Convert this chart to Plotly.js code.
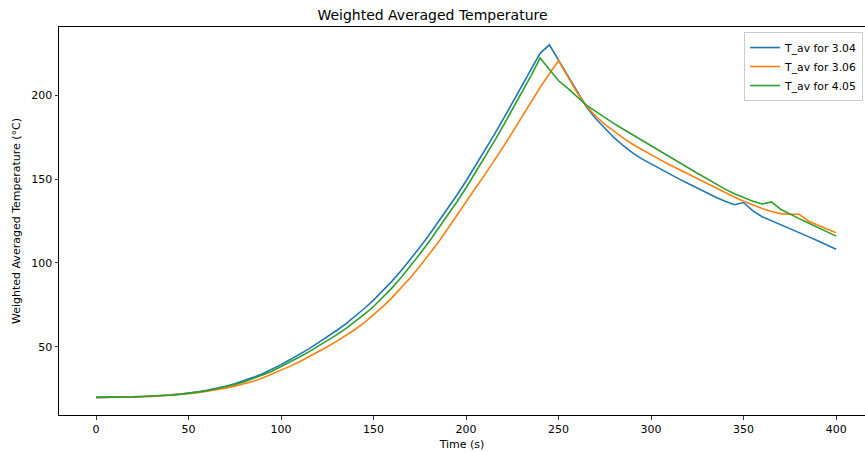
<!DOCTYPE html>
<html>
<head>
<meta charset="utf-8">
<script src="https://cdn.plot.ly/plotly-3.0.1.min.js"></script>
<style>html,body{margin:0;padding:0;background:#fff;}#chart{width:865px;height:452px;}</style>
</head>
<body>
<div id="chart"></div>
<script>
const time = [0,5,10,15,20,25,30,35,40,45,50,55,60,65,70,75,80,85,90,95,100,105,110,115,120,125,130,135,140,145,150,155,160,165,170,175,180,185,190,195,200,205,210,215,220,225,230,235,240,245,250,255,260,265,270,275,280,285,290,295,300,305,310,315,320,325,330,335,340,345,350,355,360,365,370,375,380,385,390,395,400];

const tav304 = [20.0,20.0,20.1,20.2,20.3,20.5,20.7,21.0,21.4,21.9,22.5,23.3,24.2,25.3,26.6,28.1,29.9,31.9,34.1,36.6,39.5,42.5,45.6,48.9,52.4,56.0,59.8,63.8,68.2,72.9,77.9,83.4,89.2,95.5,102.2,109.3,116.7,124.4,132.2,140.3,148.8,157.6,166.7,176.0,185.5,195.2,205.1,215.0,224.8,229.9,220.8,211.5,202.2,193.0,186.0,180.0,174.6,169.8,165.6,162.0,158.9,155.8,152.9,150.1,147.3,144.5,141.8,139.1,136.7,134.7,136.0,131.0,127.5,125.2,122.9,120.5,118.1,115.7,113.2,110.7,108.2];

const tav306 = [20.0,20.0,20.1,20.2,20.3,20.4,20.6,20.9,21.2,21.6,22.2,22.8,23.6,24.5,25.5,26.7,28.0,29.6,31.5,33.8,36.3,38.6,41.2,44.0,47.0,50.1,53.3,56.7,60.4,64.5,69.0,74.0,79.4,85.2,91.4,98.0,105.0,112.4,120.2,128.4,137.0,144.5,152.3,160.5,169.0,177.8,186.8,195.8,204.5,212.7,220.4,211.0,201.5,193.5,187.5,182.5,178.2,174.3,170.7,167.5,164.4,161.4,158.5,155.7,152.9,150.2,147.5,144.8,142.0,139.3,136.8,134.5,132.4,130.7,129.4,129.0,129.0,125.0,122.5,120.2,118.0];

const tav405 = [20.0,20.0,20.1,20.2,20.3,20.5,20.7,20.95,21.3,21.8,22.3,23.1,23.9,25.0,26.2,27.6,29.3,31.2,33.3,35.6,38.3,41.1,44.0,47.1,50.4,53.7,57.2,60.9,65.0,69.4,74.1,79.4,85.2,91.5,98.2,105.3,112.7,120.4,128.2,136.3,144.8,153.6,162.7,172.0,181.5,191.2,201.1,211.3,222.0,215.0,208.5,204.0,199.0,194.0,190.3,186.5,183.0,179.6,176.4,173.2,169.9,166.6,163.3,160.0,156.7,153.4,150.2,147.0,144.0,141.2,138.8,136.8,135.1,136.4,132.0,129.0,126.4,123.8,121.2,118.6,116.0];

const seriesNames = ["T_av for 3.04", "T_av for 3.06", "T_av for 4.05"];
const seriesColors = ["#1f77b4", "#ff7f0e", "#2ca02c"];
const xTicks = [0,50,100,150,200,250,300,350,400];
const yTicks = [50,100,150,200];

const allY = [tav304, tav306, tav405];
const traces = allY.map((y, i) => ({
  x: time, y: y, type: "scatter", mode: "lines",
  name: seriesNames[i],
  line: {color: seriesColors[i], width: 1.6}
}));

const font = "DejaVu Sans, sans-serif";
const layout = {
  width: 865, height: 452,
  margin: {l: 59, r: 0, t: 27, b: 37, pad: 0, autoexpand: false},
  paper_bgcolor: "#fff", plot_bgcolor: "#fff",
  font: {family: font, size: 11, color: "#000"},
  title: {text: "Weighted Averaged Temperature", font: {family: font, size: 14, color: "#000"}, x: 0.5, xanchor: "center", y: 0.966, yanchor: "middle", automargin: false},
  xaxis: {
    range: [-20, 415.6], tickvals: xTicks, ticktext: xTicks.map(String),
    showgrid: false, zeroline: false, showline: true, linecolor: "#000", linewidth: 1, mirror: true,
    ticks: "outside", ticklen: 3.5, tickwidth: 0.8, tickcolor: "#000",
    tickfont: {family: font, size: 11}, automargin: false,
    title: {text: "Time (s)", font: {family: font, size: 11}, standoff: 5}
  },
  yaxis: {
    range: [9.5, 240.5], tickvals: yTicks, ticktext: yTicks.map(String),
    showgrid: false, zeroline: false, showline: true, linecolor: "#000", linewidth: 1, mirror: true,
    ticks: "outside", ticklen: 3.5, tickwidth: 0.8, tickcolor: "#000",
    tickfont: {family: font, size: 11}, automargin: false,
    title: {text: "Weighted Averaged Temperature (°C)", font: {family: font, size: 11}, standoff: 8}
  },
  showlegend: true,
  legend: {
    x: 0.85, y: 0.987, xanchor: "left", yanchor: "top",
    bgcolor: "rgba(255,255,255,0.8)", bordercolor: "#cccccc", borderwidth: 1,
    font: {family: font, size: 10.8, color: "#000"},
    itemwidth: 30, tracegroupgap: 0
  }
};

Plotly.newPlot("chart", traces, layout, {staticPlot: true, displayModeBar: false});
</script>
</body>
</html>
